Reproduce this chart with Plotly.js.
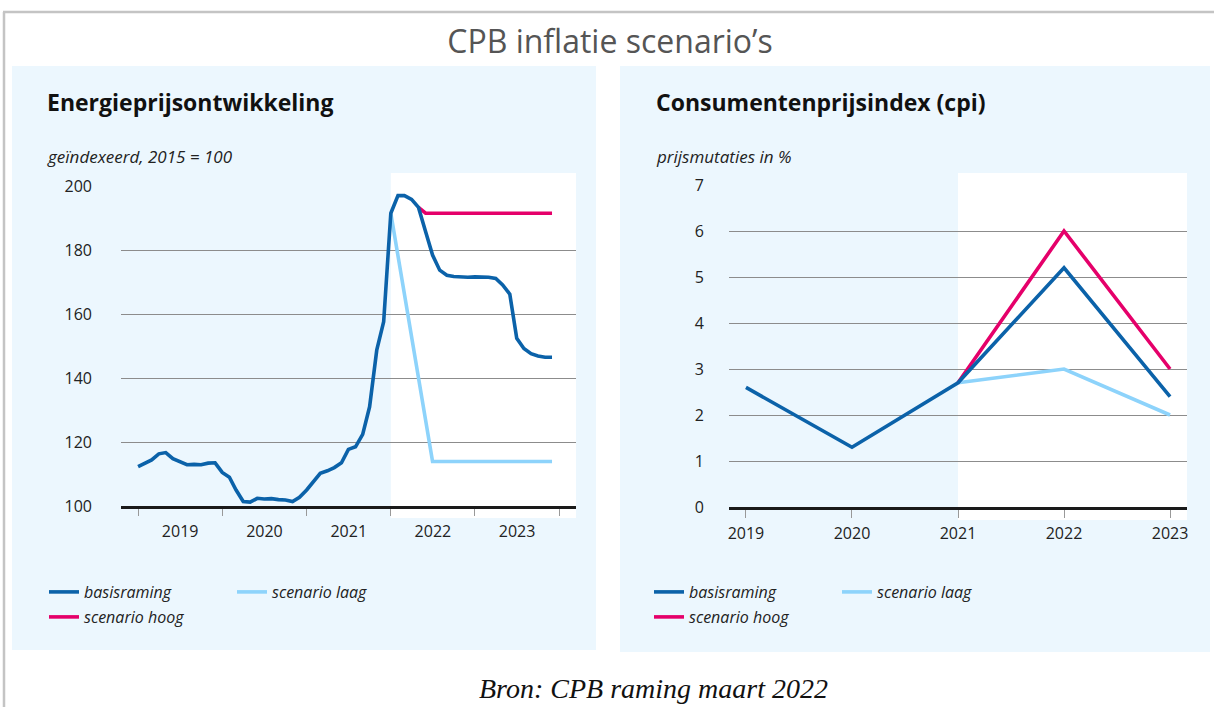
<!DOCTYPE html>
<html>
<head>
<meta charset="utf-8">
<script src="https://cdn.plot.ly/plotly-3.0.1.min.js"></script>
<style>html,body{margin:0;padding:0;background:#fff;}#chart{width:1214px;height:707px;}</style>
</head>
<body>
<div id="chart"></div>
<script>
// ---------- DATA ----------
// Energieprijsontwikkeling (geïndexeerd, 2015 = 100), monthly basisraming
const energyYears = [2019, 2020, 2021, 2022, 2023];
const energyBasis2019 = [112.3, 113.5, 114.4, 116.3, 116.7, 114.8, 114.0, 112.9, 113.0, 112.9, 113.4, 113.5];
const energyBasis2020 = [110.5, 109.0, 105.0, 101.4, 101.2, 102.4, 102.2, 102.3, 102.0, 101.9, 101.4, 102.7];
const energyBasis2021 = [105.0, 107.6, 110.2, 111.0, 112.0, 113.5, 117.7, 118.5, 122.4, 131.0, 148.7, 157.6];
const energyBasis2022 = [191.5, 197.0, 197.0, 195.8, 193.3, 185.7, 178.4, 173.7, 172.1, 171.7, 171.5, 171.5];
const energyBasis2023 = [171.6, 171.6, 171.5, 171.1, 169.1, 166.2, 152.4, 149.2, 147.6, 146.9, 146.5, 146.5];
const energyHoogDates = ['2022-05-01', '2022-06-01', '2023-12-01'];
const energyHoogValues = [193.3, 191.5, 191.5];
const energyLaagDates = ['2022-01-01', '2022-07-01', '2023-12-01'];
const energyLaagValues = [191.5, 113.9, 113.9];
const energyForecastStart = '2022-01-01';
const energyTicks = [100, 120, 140, 160, 180, 200];

// Consumentenprijsindex (cpi), prijsmutaties in %
const cpiYears = [2019, 2020, 2021, 2022, 2023];
const cpiBasis = [2.6, 1.3, 2.7, 5.2, 2.4];
const cpiScenYears = [2021, 2022, 2023];
const cpiHoog = [2.7, 6.0, 3.0];
const cpiLaag = [2.7, 3.0, 2.0];
const cpiForecastStart = 2021;
const cpiTicks = [0, 1, 2, 3, 4, 5, 6, 7];

const seriesNames = ['basisraming', 'scenario laag', 'scenario hoog'];

// ---------- STYLE ----------
const W = 1214, H = 707;
const C_BASIS = '#0b62a9', C_LAAG = '#8dd3fb', C_HOOG = '#e5006a';
const PANEL_BG = '#ecf7fe';
const FONT = 'Open Sans, Noto Sans, sans-serif';
const px = v => v / W;
const py = v => 1 - v / H;

// build monthly dates
const energyBasis = [].concat(energyBasis2019, energyBasis2020, energyBasis2021, energyBasis2022, energyBasis2023);
const energyDates = [];
energyYears.forEach(y => { for (let m = 1; m <= 12; m++) energyDates.push(y + '-' + String(m).padStart(2, '0') + '-01'); });

const xRangeLeft = ['2018-10-19', '2024-03-14'];
const xRangeRight = [2018.84, 2023.16];

const LW = 3.6;
const traces = [
  {x: energyLaagDates, y: energyLaagValues, name: seriesNames[1], mode: 'lines', line: {color: C_LAAG, width: LW}, xaxis: 'x', yaxis: 'y', legend: 'legend', legendrank: 2, hoverinfo: 'skip'},
  {x: energyHoogDates, y: energyHoogValues, name: seriesNames[2], mode: 'lines', line: {color: C_HOOG, width: LW}, xaxis: 'x', yaxis: 'y', legend: 'legend2', legendrank: 3, hoverinfo: 'skip'},
  {x: energyDates, y: energyBasis, name: seriesNames[0], mode: 'lines', line: {color: C_BASIS, width: LW}, xaxis: 'x', yaxis: 'y', legend: 'legend', legendrank: 1, hoverinfo: 'skip'},
  {x: cpiScenYears, y: cpiLaag, name: seriesNames[1], mode: 'lines', line: {color: C_LAAG, width: LW}, xaxis: 'x2', yaxis: 'y2', legend: 'legend3', legendrank: 2, hoverinfo: 'skip'},
  {x: cpiScenYears, y: cpiHoog, name: seriesNames[2], mode: 'lines', line: {color: C_HOOG, width: LW}, xaxis: 'x2', yaxis: 'y2', legend: 'legend4', legendrank: 3, hoverinfo: 'skip'},
  {x: cpiYears, y: cpiBasis, name: seriesNames[0], mode: 'lines', line: {color: C_BASIS, width: LW}, xaxis: 'x2', yaxis: 'y2', legend: 'legend3', legendrank: 1, hoverinfo: 'skip'}
];

const tickFont = {family: FONT, size: 16, color: '#222'};
const legendCommon = {
  orientation: 'h', xanchor: 'left', yanchor: 'middle', bgcolor: 'rgba(0,0,0,0)',
  entrywidth: 143, entrywidthmode: 'pixels', itemclick: false, itemdoubleclick: false,
  font: {family: FONT, size: 16, style: 'italic', color: '#222'}
};

const layout = {
  width: W, height: H, autosize: false,
  margin: {l: 0, r: 0, t: 0, b: 0, pad: 0},
  paper_bgcolor: '#ffffff', plot_bgcolor: 'rgba(0,0,0,0)',
  showlegend: true,
  title: {text: 'CPB inflatie scenario’s', x: 610 / W, xanchor: 'center', y: py(42), yanchor: 'middle', yref: 'container',
          font: {family: FONT, size: 32, color: '#555555'}},
  xaxis: {
    type: 'date', domain: [px(121), px(576)], range: xRangeLeft, anchor: 'y',
    tick0: '2019-01-01', dtick: 'M12', tickformat: '%Y', ticklabelmode: 'period',
    ticks: 'outside', ticklen: 7, tickwidth: 1, tickcolor: '#999999',
    showgrid: false, zeroline: false, showline: true, linecolor: '#1a1a1a', linewidth: 2.5,
    tickfont: tickFont, ticklabelstandoff: 2, fixedrange: true
  },
  yaxis: {
    domain: [py(506), py(186)], range: [100, 200], anchor: 'x',
    tickvals: energyTicks, ticks: '', showgrid: true, gridcolor: '#8c8c8c', gridwidth: 1,
    zeroline: false, showline: false, tickfont: tickFont, ticklabelstandoff: 28, fixedrange: true
  },
  xaxis2: {
    domain: [px(729), px(1187)], range: xRangeRight, anchor: 'y2',
    tickvals: cpiYears, ticks: 'outside', ticklen: 8, tickwidth: 1, tickcolor: '#999999',
    showgrid: false, zeroline: false, showline: true, linecolor: '#1a1a1a', linewidth: 2.5,
    tickfont: tickFont, ticklabelstandoff: 2, fixedrange: true
  },
  yaxis2: {
    domain: [py(507), py(185)], range: [0, 7], anchor: 'x2',
    tickvals: cpiTicks, ticks: '', showgrid: true, gridcolor: '#8c8c8c', gridwidth: 1,
    zeroline: false, showline: false, tickfont: tickFont, ticklabelstandoff: 24, fixedrange: true
  },
  legend: Object.assign({}, legendCommon, {x: px(44), y: py(592)}),
  legend2: Object.assign({}, legendCommon, {x: px(44), y: py(617)}),
  legend3: Object.assign({}, legendCommon, {x: px(649), y: py(592)}),
  legend4: Object.assign({}, legendCommon, {x: px(649), y: py(617)}),
  shapes: [
    {type: 'rect', xref: 'paper', yref: 'paper', x0: px(12), x1: px(596), y0: py(650), y1: py(66), fillcolor: PANEL_BG, line: {width: 0}, layer: 'below'},
    {type: 'rect', xref: 'paper', yref: 'paper', x0: px(620), x1: px(1210), y0: py(652), y1: py(66), fillcolor: PANEL_BG, line: {width: 0}, layer: 'below'},
    {type: 'rect', xref: 'x', yref: 'paper', x0: energyForecastStart, x1: xRangeLeft[1], y0: py(518), y1: py(173), fillcolor: '#ffffff', line: {width: 0}, layer: 'below'},
    {type: 'rect', xref: 'x2', yref: 'paper', x0: cpiForecastStart, x1: xRangeRight[1], y0: py(520), y1: py(173), fillcolor: '#ffffff', line: {width: 0}, layer: 'below'},
    {type: 'line', xref: 'paper', yref: 'paper', x0: px(3), x1: 1, y0: py(12), y1: py(12), line: {color: '#c4c4c4', width: 2.5}, layer: 'below'},
    {type: 'line', xref: 'paper', yref: 'paper', x0: px(4), x1: px(4), y0: 0, y1: py(12), line: {color: '#c4c4c4', width: 2.5}, layer: 'below'}
  ],
  annotations: [
    {text: '<b>Energieprijsontwikkeling</b>', xref: 'paper', yref: 'paper', x: px(45), y: py(102), xanchor: 'left', yanchor: 'middle', showarrow: false, font: {family: FONT, size: 23, color: '#111'}},
    {text: 'geïndexeerd, 2015 = 100', xref: 'paper', yref: 'paper', x: px(45), y: py(156), xanchor: 'left', yanchor: 'middle', showarrow: false, font: {family: FONT, size: 17, style: 'italic', color: '#222'}},
    {text: '<b>Consumentenprijsindex (cpi)</b>', xref: 'paper', yref: 'paper', x: px(654), y: py(102), xanchor: 'left', yanchor: 'middle', showarrow: false, font: {family: FONT, size: 23, color: '#111'}},
    {text: 'prijsmutaties in %', xref: 'paper', yref: 'paper', x: px(654), y: py(156), xanchor: 'left', yanchor: 'middle', showarrow: false, font: {family: FONT, size: 17, style: 'italic', color: '#222'}},
    {text: 'Bron: CPB raming maart 2022', xref: 'paper', yref: 'paper', x: px(653), y: py(688), xanchor: 'center', yanchor: 'middle', showarrow: false, font: {family: 'Liberation Serif, DejaVu Serif, serif', size: 28, style: 'italic', color: '#111'}}
  ]
};

Plotly.newPlot('chart', traces, layout, {displayModeBar: false, staticPlot: true});
</script>
</body>
</html>
